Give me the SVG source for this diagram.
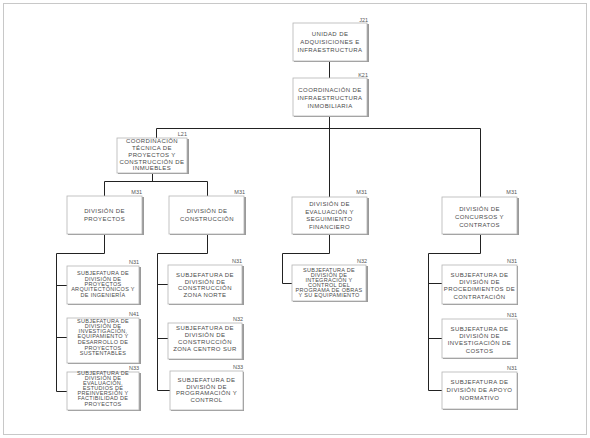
<svg xmlns="http://www.w3.org/2000/svg" width="590" height="438" viewBox="0 0 590 438">
<style>
.frame{fill:#fff;stroke:#c8c8c8;stroke-width:1}
.sh{fill:#9a9a9a}
.bx{fill:#fff;stroke:#b4b4b4;stroke-width:0.8}
.t{font-family:"Liberation Sans",Arial,sans-serif;font-size:6px;fill:#4a4a4a;text-anchor:middle;letter-spacing:0.4px}
.s{font-size:5.5px;letter-spacing:0.3px}
.c{font-family:"Liberation Sans",Arial,sans-serif;font-size:5.5px;fill:#555;text-anchor:end}
.ln{fill:none;stroke:#222;stroke-width:1}
</style>
<rect class="frame" x="3.5" y="3.5" width="583" height="431"/>
<g id="connectors">
<path class="ln" d="M329.5 61V78M329.5 116V197M156.5 128.5H480.5V197M156.5 128.5V138"/>
<path class="ln" d="M152.5 173V181.5M104.5 181.5H207.5M104.5 181.5V196M207.5 181.5V196"/>
<path class="ln" d="M104.5 234V253.5H56.5V391.5H67M56.5 285.5H67M56.5 337.5H67"/>
<path class="ln" d="M207.5 234V253.5H157.5V390.5H170M157.5 284.5H168M157.5 338.5H168"/>
<path class="ln" d="M329.5 234V253.5H282.5V283.5H292"/>
<path class="ln" d="M480.5 234V253.5H428.5V390.5H442M428.5 283.5H442M428.5 338.5H442"/>
</g>
<g id="j21">
<rect class="sh" x="294" y="24" width="75" height="38"/><rect class="bx" x="293" y="23" width="74" height="38"/>
<text class="c" x="368" y="22">J21</text>
<text class="t" x="330" y="36">UNIDAD DE</text><text class="t" x="330" y="44">ADQUISICIONES E</text><text class="t" x="330" y="52">INFRAESTRUCTURA</text>
</g>
<g id="k21">
<rect class="sh" x="294" y="79" width="75" height="38"/><rect class="bx" x="293" y="78" width="74" height="38"/>
<text class="c" x="368" y="77">K21</text>
<text class="t" x="330" y="92">COORDINACIÓN DE</text><text class="t" x="330" y="100">INFRAESTRUCTURA</text><text class="t" x="330" y="108">INMOBILIARIA</text>
</g>
<g id="l21">
<rect class="sh" x="118" y="139" width="71" height="35"/><rect class="bx" x="117" y="138" width="70" height="35"/>
<text class="c" x="187" y="136">L21</text>
<text class="t" x="152" y="143">COORDINACIÓN</text><text class="t" x="152" y="150">TÉCNICA DE</text><text class="t" x="152" y="157">PROYECTOS Y</text><text class="t" x="152" y="163.5">CONSTRUCCIÓN DE</text><text class="t" x="152" y="170">INMUEBLES</text>
</g>
<g id="m31a">
<rect class="sh" x="68" y="197" width="76" height="38"/><rect class="bx" x="67" y="196" width="75" height="38"/>
<text class="c" x="142" y="194">M31</text>
<text class="t" x="104.5" y="213">DIVISIÓN DE</text><text class="t" x="104.5" y="220.5">PROYECTOS</text>
</g>
<g id="m31b">
<rect class="sh" x="170" y="197" width="76" height="38"/><rect class="bx" x="169" y="196" width="75" height="38"/>
<text class="c" x="245" y="194">M31</text>
<text class="t" x="207" y="213">DIVISIÓN DE</text><text class="t" x="207" y="220.5">CONSTRUCCIÓN</text>
</g>
<g id="m31c">
<rect class="sh" x="293" y="198" width="76" height="37"/><rect class="bx" x="292" y="197" width="75" height="37"/>
<text class="c" x="367" y="194">M31</text>
<text class="t" x="329.5" y="206">DIVISIÓN DE</text><text class="t" x="329.5" y="213.5">EVALUACIÓN Y</text><text class="t" x="329.5" y="221">SEGUIMIENTO</text><text class="t" x="329.5" y="229">FINANCIERO</text>
</g>
<g id="m31d">
<rect class="sh" x="443" y="198" width="76" height="37"/><rect class="bx" x="442" y="197" width="75" height="37"/>
<text class="c" x="517" y="194">M31</text>
<text class="t" x="479.5" y="211">DIVISIÓN DE</text><text class="t" x="479.5" y="219">CONCURSOS Y</text><text class="t" x="479.5" y="226.5">CONTRATOS</text>
</g>
<g id="n31a">
<rect class="sh" x="68" y="267" width="73" height="38"/><rect class="bx" x="67" y="266" width="72" height="38"/>
<text class="c" x="139" y="264">N31</text>
<text class="t s" x="103" y="275">SUBJEFATURA DE</text><text class="t s" x="103" y="280.5">DIVISIÓN DE</text><text class="t s" x="103" y="285.5">PROYECTOS</text><text class="t s" x="103" y="291">ARQUITECTÓNICOS Y</text><text class="t s" x="103" y="297">DE INGENIERÍA</text>
</g>
<g id="n41">
<rect class="sh" x="68" y="319" width="73" height="45"/><rect class="bx" x="67" y="318" width="72" height="45"/>
<text class="c" x="139" y="316">N41</text>
<text class="t s" x="103" y="323">SUBJEFATURA DE</text><text class="t s" x="103" y="328">DIVISIÓN DE</text><text class="t s" x="103" y="333">INVESTIGACIÓN,</text><text class="t s" x="103" y="338">EQUIPAMIENTO Y</text><text class="t s" x="103" y="344">DESARROLLO DE</text><text class="t s" x="103" y="349.5">PROYECTOS</text><text class="t s" x="103" y="355">SUSTENTABLES</text>
</g>
<g id="n33a">
<rect class="sh" x="68" y="373" width="73" height="38"/><rect class="bx" x="67" y="372" width="72" height="38"/>
<text class="c" x="139" y="370">N33</text>
<text class="t s" x="103" y="375">SUBJEFATURA DE</text><text class="t s" x="103" y="380">DIVISIÓN DE</text><text class="t s" x="103" y="385">EVALUACIÓN,</text><text class="t s" x="103" y="390">ESTUDIOS DE</text><text class="t s" x="103" y="395">PREINVERSIÓN Y</text><text class="t s" x="103" y="400">FACTIBILIDAD DE</text><text class="t s" x="103" y="405.5">PROYECTOS</text>
</g>
<g id="n31b">
<rect class="sh" x="169" y="266" width="75" height="39"/><rect class="bx" x="168" y="265" width="74" height="39"/>
<text class="c" x="242" y="263">N31</text>
<text class="t" x="205" y="277">SUBJEFATURA DE</text><text class="t" x="205" y="284">DIVISIÓN DE</text><text class="t" x="205" y="290">CONSTRUCCIÓN</text><text class="t" x="205" y="296.5">ZONA NORTE</text>
</g>
<g id="n32b">
<rect class="sh" x="169" y="324" width="75" height="36"/><rect class="bx" x="168" y="323" width="74" height="36"/>
<text class="c" x="243" y="321">N32</text>
<text class="t" x="205" y="330">SUBJEFATURA DE</text><text class="t" x="205" y="337">DIVISIÓN DE</text><text class="t" x="205" y="344">CONSTRUCCIÓN</text><text class="t" x="205" y="351">ZONA CENTRO SUR</text>
</g>
<g id="n33b">
<rect class="sh" x="171" y="372" width="73" height="39"/><rect class="bx" x="170" y="371" width="73" height="39"/>
<text class="c" x="243" y="369">N33</text>
<text class="t" x="206.5" y="382">SUBJEFATURA DE</text><text class="t" x="206.5" y="388.5">DIVISIÓN DE</text><text class="t" x="206.5" y="395">PROGRAMACIÓN Y</text><text class="t" x="206.5" y="402">CONTROL</text>
</g>
<g id="n32c">
<rect class="sh" x="293" y="266" width="75" height="36"/><rect class="bx" x="292" y="265" width="74" height="36"/>
<text class="c" x="367" y="263">N32</text>
<text class="t s" x="329" y="272">SUBJEFATURA DE</text><text class="t s" x="329" y="277">DIVISIÓN DE</text><text class="t s" x="329" y="282">INTEGRACIÓN Y</text><text class="t s" x="329" y="287">CONTROL DEL</text><text class="t s" x="329" y="292">PROGRAMA DE OBRAS</text><text class="t s" x="329" y="297">Y SU EQUIPAMIENTO</text>
</g>
<g id="n31d">
<rect class="sh" x="443" y="266" width="75" height="39"/><rect class="bx" x="442" y="265" width="75" height="39"/>
<text class="c" x="517" y="263">N31</text>
<text class="t" x="479.5" y="277">SUBJEFATURA DE</text><text class="t" x="479.5" y="284">DIVISIÓN DE</text><text class="t" x="479.5" y="291">PROCEDIMIENTOS DE</text><text class="t" x="479.5" y="299">CONTRATACIÓN</text>
</g>
<g id="n31e">
<rect class="sh" x="443" y="320" width="75" height="39"/><rect class="bx" x="442" y="319" width="75" height="39"/>
<text class="c" x="517" y="317">N31</text>
<text class="t" x="479.5" y="331">SUBJEFATURA DE</text><text class="t" x="479.5" y="338">DIVISIÓN DE</text><text class="t" x="479.5" y="345">INVESTIGACIÓN DE</text><text class="t" x="479.5" y="353">COSTOS</text>
</g>
<g id="n31f">
<rect class="sh" x="443" y="373" width="75" height="37"/><rect class="bx" x="442" y="372" width="75" height="37"/>
<text class="c" x="517" y="370">N31</text>
<text class="t" x="479.5" y="384">SUBJEFATURA DE</text><text class="t" x="479.5" y="392">DIVISIÓN DE APOYO</text><text class="t" x="479.5" y="400">NORMATIVO</text>
</g>
</svg>
